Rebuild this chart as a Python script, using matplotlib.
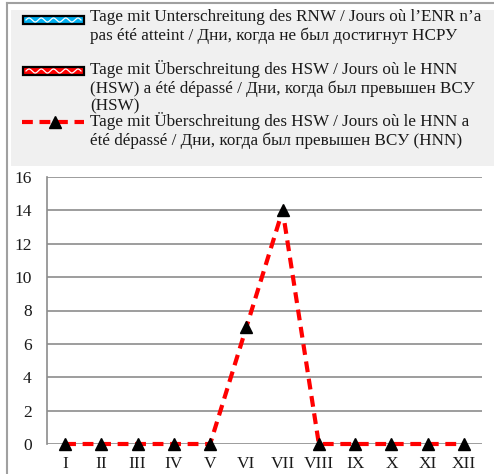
import matplotlib
matplotlib.use("Agg")
import matplotlib.pyplot as plt
import numpy as np
from matplotlib.patches import Rectangle
from matplotlib.lines import Line2D

months = ["I", "II", "III", "IV", "V", "VI", "VII", "VIII", "IX", "X", "XI", "XII"]
days_below_rnw = [0, 0, 0, 0, 0, 0, 0, 0, 0, 0, 0, 0]
days_above_hsw = [0, 0, 0, 0, 0, 0, 0, 0, 0, 0, 0, 0]
days_above_hnn = [0, 0, 0, 0, 0, 7, 14, 0, 0, 0, 0, 0]
yticks = [0, 2, 4, 6, 8, 10, 12, 14, 16]

label_rnw = "Tage mit Unterschreitung des RNW / Jours où l’ENR n’a\npas été atteint / Дни, когда не был достигнут НСРУ"
label_hsw = "Tage mit Überschreitung des HSW / Jours où le HNN\n(HSW) a été dépassé / Дни, когда был превышен ВСУ\n(HSW)"
label_hnn = "Tage mit Überschreitung des HSW / Jours où le HNN a\nété dépassé / Дни, когда был превышен ВСУ (HNN)"

plt.rcParams['font.family'] = ['Liberation Serif', 'DejaVu Serif']

fig = plt.figure(figsize=(4.94, 4.74), dpi=100)
W, H = 494, 474

def fx(px):
    return px / W

def fy(py):
    return 1 - py / H

# outer frame lines and legend background
fig.add_artist(Line2D([fx(6.5), fx(6.5)], [0, fy(3)], color="#a0a0a0", lw=1.5, transform=fig.transFigure))
fig.add_artist(Line2D([fx(6.5), 1], [fy(3), fy(3)], color="#a0a0a0", lw=1.5, transform=fig.transFigure))
fig.add_artist(Rectangle((fx(11), fy(166)), 1 - fx(11), fy(10) - fy(166),
                         facecolor="#f0f0f0", edgecolor="none", transform=fig.transFigure))

ax = fig.add_axes([fx(47), fy(444), fx(482) - fx(47), fy(177) - fy(444)])
x = np.arange(len(months))
ax.bar(x, days_below_rnw, color="#00b0f0", width=0.6)
ax.bar(x, days_above_hsw, bottom=days_below_rnw, color="#ff0000", width=0.6)
ax.plot(x, days_above_hnn, color="#ff0000", lw=3, ls=(0, (2.6, 1.6)),
        marker="^", markersize=8, markerfacecolor="black", markeredgecolor="black", zorder=5,
        clip_on=False)

ax.set_xlim(-0.5, len(months) - 0.5)
ax.set_ylim(0, 16)
ax.set_yticks(yticks)
ax.set_xticks(x)
ax.set_xticklabels(months)
ax.grid(axis="y", color="#8c8c8c", lw=1.2)
ax.set_axisbelow(True)
for s in ["top", "right", "bottom"]:
    ax.spines[s].set_visible(False)
ax.spines["left"].set_color("#8c8c8c")
ax.spines["left"].set_linewidth(1.2)
ax.tick_params(axis="y", length=0, pad=11, labelsize=12.5, labelcolor="#1a1a1a")
ax.tick_params(axis="x", length=0, pad=9, labelsize=12.5, labelcolor="#1a1a1a")

# legend entries
fs = 12.3
def wavy_patch(py, color):
    fig.add_artist(Rectangle((fx(23), fy(py + 4)), fx(84) - fx(23), fy(py - 4) - fy(py + 4),
                             facecolor=color, edgecolor="black", lw=1.6, transform=fig.transFigure))
    t = np.linspace(0, 1, 200)
    xs = fx(26) + t * (fx(81) - fx(26))
    ys = fy(py) + 2.0 / H * np.sin(t * 2 * np.pi * 4.5)
    fig.add_artist(Line2D(xs, ys, color="white", lw=0.9, transform=fig.transFigure))

wavy_patch(20, "#00b0f0")
wavy_patch(71, "#ff0000")
fig.add_artist(Line2D([fx(22), fx(84)], [fy(122), fy(122)], color="#ff0000", lw=3,
                      ls=(0, (2.6, 1.6)), transform=fig.transFigure))
fig.add_artist(Line2D([fx(55)], [fy(122)], marker="^", markersize=8, color="black",
                      transform=fig.transFigure))

tkw = dict(fontsize=fs, va="top", ha="left", linespacing=1.17, color="#1a1a1a")
fig.text(fx(90), fy(9), label_rnw, **tkw)
fig.text(fx(90), fy(60), label_hsw, **tkw)
fig.text(fx(90), fy(112), label_hnn, **tkw)

fig.savefig("out.png", dpi=100)
